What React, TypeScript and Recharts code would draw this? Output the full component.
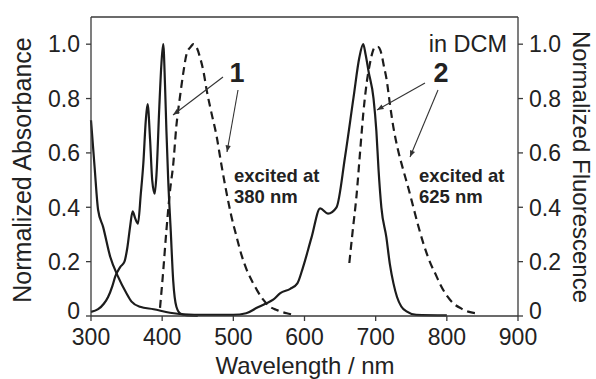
import { LineChart, Line, XAxis, YAxis } from "recharts";

// compound 1 absorption (solid)
const abs1Nm = [300, 310, 318, 324, 330, 334, 341, 347, 351, 355, 358.5, 362, 366, 370, 373.5, 377, 379.5, 383, 386, 389.5, 392, 396, 399, 401.5, 404, 406, 408.5, 412, 415.5, 420, 426, 435, 450];
const abs1Val = [0.015, 0.025, 0.045, 0.07, 0.11, 0.145, 0.18, 0.2, 0.25, 0.33, 0.385, 0.36, 0.34, 0.45, 0.56, 0.72, 0.78, 0.65, 0.5, 0.45, 0.52, 0.77, 0.93, 1.0, 0.85, 0.68, 0.5, 0.316, 0.13, 0.034, 0.008, 0.002, 0];

// compound 1 fluorescence, excited at 380 nm (dashed)
const fl1Nm = [397, 401, 406, 411, 415.6, 420, 425, 430, 434.5, 440, 444, 449, 453, 458, 462.6, 469, 476.6, 483, 490.7, 497, 504.7, 512, 518.8, 528, 533, 542, 551, 561, 575, 587];
const fl1Val = [0.03, 0.15, 0.316, 0.46, 0.56, 0.7, 0.806, 0.9, 0.966, 0.99, 1.0, 0.985, 0.953, 0.9, 0.83, 0.75, 0.66, 0.56, 0.45, 0.37, 0.29, 0.22, 0.17, 0.12, 0.096, 0.06, 0.035, 0.022, 0.01, 0.004];

// compound 2 absorption (solid)
const abs2Nm = [300, 305, 310, 317, 327, 338, 350, 357, 369, 388, 411, 430, 460, 500, 518, 533, 545, 556, 566, 580, 590, 598, 610, 622, 633, 645, 657, 669, 677, 682.5, 686, 690, 697, 701, 704, 708, 715, 720, 725, 730, 736, 744, 757, 800];
const abs2Val = [0.72, 0.55, 0.39, 0.328, 0.218, 0.145, 0.083, 0.053, 0.034, 0.025, 0.012, 0.006, 0.004, 0.004, 0.01, 0.03, 0.045, 0.06, 0.084, 0.1, 0.12, 0.18, 0.29, 0.396, 0.377, 0.4, 0.586, 0.806, 0.95, 1.0, 0.96, 0.9, 0.8, 0.68, 0.54, 0.4, 0.29, 0.19, 0.12, 0.07, 0.035, 0.016, 0.004, 0.002];

// compound 2 fluorescence, excited at 625 nm (dashed)
const fl2Nm = [663, 668, 673, 678, 682.6, 687, 692, 695.5, 699, 703, 708, 711.5, 715.5, 720, 724.8, 731, 738.8, 746, 753, 760, 767, 776, 785.7, 790, 800, 809, 820, 830, 842];
const fl2Val = [0.195, 0.32, 0.44, 0.6, 0.745, 0.85, 0.93, 0.97, 0.99, 0.99, 0.966, 0.92, 0.868, 0.78, 0.696, 0.615, 0.537, 0.47, 0.4, 0.33, 0.267, 0.2, 0.145, 0.12, 0.075, 0.047, 0.028, 0.016, 0.01];

const xTicks = [300, 400, 500, 600, 700, 800, 900];
const yTicks = [0, 0.2, 0.4, 0.6, 0.8, 1.0];

const pts = (nm: number[], val: number[]) => nm.map((x, i) => ({ x, y: val[i] }));

const font = "'Liberation Sans', Arial, Helvetica, sans-serif";
const ink = "#1c1c1c";
const axisCol = "#3a3a3a";
const tickStyle = { fontSize: 23, fill: "#222", fontFamily: font };
const fmtY = (v: number) => (v === 0 ? "0" : v.toFixed(1));

// y tick label; the "0" sits a little above its tick, as in the original
const YTick = (props: any) => {
    const { x, y, payload, textAnchor } = props;
    const lift = payload.value === 0 ? -5 : 0;
    return (
        <text x={x} y={y + lift} dy="0.36em" textAnchor={textAnchor} fontSize={23} fill="#222" fontFamily={font}>
            {fmtY(payload.value)}
        </text>
    );
};

const App = () => {
    return (
        <div style={{ position: "absolute", left: 0, top: 0, width: 596, height: 379, background: "#fff" }}>
            <LineChart width={596} height={379} margin={{ top: 12, right: 18, bottom: 28, left: 31 }}>
                <XAxis xAxisId="b" dataKey="x" type="number" domain={[300, 900]} ticks={xTicks}
                    height={35} tickSize={5} tickMargin={8} tick={tickStyle}
                    stroke={axisCol} strokeWidth={1.3} />
                <XAxis xAxisId="t" orientation="top" dataKey="x" type="number" domain={[300, 900]} ticks={xTicks}
                    height={5} tickSize={4} tickFormatter={() => ""} stroke={axisCol} strokeWidth={1.3} />
                <YAxis yAxisId="l" type="number" domain={[0, 1.1]} ticks={yTicks} width={60}
                    tickSize={5} tickMargin={6} tick={<YTick />}
                    stroke={axisCol} strokeWidth={1.3} />
                <YAxis yAxisId="r" orientation="right" type="number" domain={[0, 1.1]} ticks={yTicks} width={60}
                    tickSize={5} tickMargin={6} tick={<YTick />}
                    stroke={axisCol} strokeWidth={1.3} />
                <Line xAxisId="b" yAxisId="l" data={pts(abs1Nm, abs1Val)} dataKey="y" type="monotone"
                    stroke={ink} strokeWidth={2.2} dot={false} isAnimationActive={false} />
                <Line xAxisId="b" yAxisId="l" data={pts(abs2Nm, abs2Val)} dataKey="y" type="monotone"
                    stroke={ink} strokeWidth={2.2} dot={false} isAnimationActive={false} />
                <Line xAxisId="b" yAxisId="r" data={pts(fl1Nm, fl1Val)} dataKey="y" type="monotone"
                    stroke={ink} strokeWidth={2.2} strokeDasharray="8 5" dot={false} isAnimationActive={false} />
                <Line xAxisId="b" yAxisId="r" data={pts(fl2Nm, fl2Val)} dataKey="y" type="monotone"
                    stroke={ink} strokeWidth={2.2} strokeDasharray="8 5" dot={false} isAnimationActive={false} />
            </LineChart>
            <svg width={596} height={379} style={{ position: "absolute", left: 0, top: 0, pointerEvents: "none" }}
                fontFamily={font}>
                <defs>
                    <marker id="ah" viewBox="0 0 10 10" refX="10" refY="5" markerWidth="9" markerHeight="6" orient="auto">
                        <path d="M0,1 L10,5 L0,9 z" fill="#333" />
                    </marker>
                </defs>
                <text x={31} y={170} fontSize={25} fill="#222" textAnchor="middle" transform="rotate(-90 31 170)">Normalized Absorbance</text>
                <text x={573} y={167} fontSize={24} fill="#222" textAnchor="middle" transform="rotate(90 573 167)">Normalized Fluorescence</text>
                <text x={305} y={373.5} fontSize={24} fill="#222" textAnchor="middle">Wavelength / nm</text>
                <text x={507} y={52} fontSize={23.5} fill="#222" textAnchor="end">in DCM</text>
                <text x={237} y={82} fontSize={27} fontWeight="bold" fill="#222" textAnchor="middle">1</text>
                <text x={441} y={82} fontSize={27} fontWeight="bold" fill="#222" textAnchor="middle">2</text>
                <text x={234} y={182} fontSize={18.5} fontWeight="bold" fill="#222">excited at</text>
                <text x={234} y={203} fontSize={18.5} fontWeight="bold" fill="#222">380 nm</text>
                <text x={419} y={182} fontSize={18.5} fontWeight="bold" fill="#222">excited at</text>
                <text x={419} y={203} fontSize={18.5} fontWeight="bold" fill="#222">625 nm</text>
                <line x1={223} y1={77} x2={173} y2={115} stroke="#333" strokeWidth={1.1} markerEnd="url(#ah)" />
                <line x1={238} y1={90} x2={227} y2={152} stroke="#333" strokeWidth={1.1} markerEnd="url(#ah)" />
                <line x1={425} y1={83} x2={377} y2={110} stroke="#333" strokeWidth={1.1} markerEnd="url(#ah)" />
                <line x1={438} y1={90} x2={410} y2={157} stroke="#333" strokeWidth={1.1} markerEnd="url(#ah)" />
            </svg>
        </div>
    );
};

export default App;
